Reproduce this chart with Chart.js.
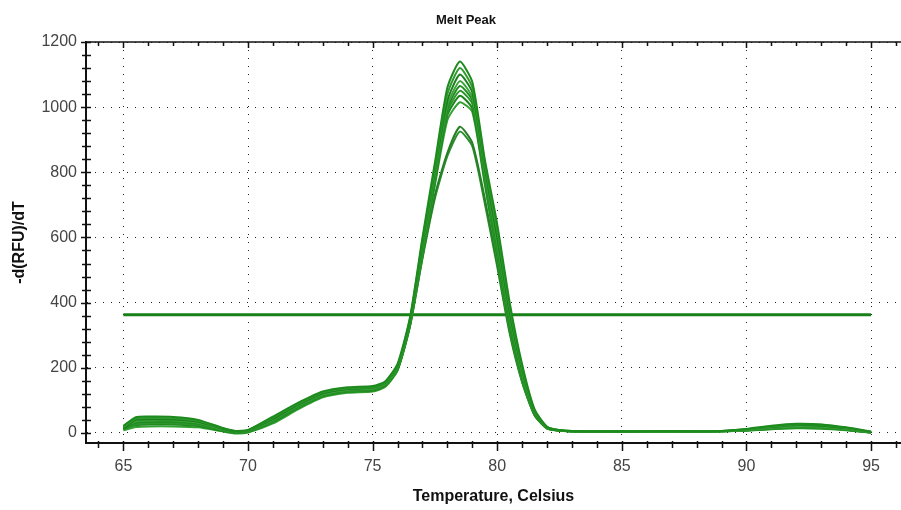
<!DOCTYPE html>
<html>
<head>
<meta charset="utf-8">
<script src="https://cdn.jsdelivr.net/npm/chart.js@4"></script>
<style>
html,body{margin:0;padding:0;background:#fff;}
#wrap{width:901px;height:510px;position:relative;}
</style>
</head>
<body>
<div id="wrap"><canvas id="c"></canvas></div>
<script>
// ---- data ----
const temps = [65, 65.5, 66, 67, 68, 69, 69.5, 70, 71, 72, 73, 74, 75, 75.5, 76, 76.5, 77, 77.5, 78, 78.5, 79, 79.5, 80, 80.5, 81, 81.5, 82, 82.5, 83, 84, 85, 86, 87, 88, 89, 90, 91, 92, 93, 94, 95];
const well1  = [22,48,50,49,40,15,6,9,50,92,127,140,144,158,212,355,600,830,1060,1140,1077,840,640,400,210,72,19,9,6,5,5,5,5,5,6,12,22,28,26,17,4];
const well2  = [18,44,46,45,37,14,5,8,47,89,124,137,141,155,207,350,590,815,1040,1120,1060,825,620,385,200,68,18,8,6,5,5,5,4,5,6,10,20,26,25,15,3];
const well3  = [15,40,42,41,34,12,4,7,43,86,121,135,139,153,204,345,580,805,1020,1100,1045,812,600,370,192,65,17,8,5,5,4,5,5,5,6,11,18,24,22,14,3];
const well4  = [20,36,38,38,31,10,3,6,40,83,118,132,136,150,200,342,572,795,1005,1080,1030,800,585,360,185,63,16,8,5,5,5,4,5,5,5,9,16,20,19,12,2];
const well5  = [12,32,34,34,28,9,2,5,38,80,116,130,134,148,198,338,566,785,995,1065,1020,790,570,350,178,61,15,7,5,4,5,5,5,4,5,8,14,18,17,11,2];
const well6  = [10,27,29,29,24,8,1,4,35,78,114,128,132,146,196,335,560,780,985,1050,1010,782,555,338,172,59,15,7,5,5,4,5,4,5,5,8,13,16,15,10,1];
const well7  = [14,24,26,26,21,6,1,3,33,76,112,126,130,144,194,332,555,770,975,1035,995,772,545,328,166,57,14,7,5,4,5,4,5,5,5,7,12,15,14,9,1];
const well8  = [8,18,20,20,17,4,-2,1,29,72,109,123,127,141,191,328,548,760,960,1015,985,762,535,320,160,55,14,7,4,5,4,5,4,5,5,7,11,14,13,8,1];
const well9  = [16,30,32,32,26,8,1,5,36,79,115,129,133,147,195,330,540,730,860,940,890,720,520,312,158,54,14,7,5,5,5,5,5,4,5,9,15,19,18,11,2];
const well10 = [11,25,27,27,22,7,1,4,34,77,113,127,131,145,193,328,535,720,850,925,880,705,510,305,155,53,13,7,5,4,4,5,5,5,5,8,13,17,16,10,1];
const wells = [well1, well2, well3, well4, well5, well6, well7, well8, well9, well10];
const thresholdTemps = [65, 95];
const thresholdValue = [363, 363];
const xTickValues = [65, 70, 75, 80, 85, 90, 95];
const yTickValues = [0, 200, 400, 600, 800, 1000, 1200];
const titleText = 'Melt Peak';
const xTitle = 'Temperature, Celsius';
const yTitle = '-d(RFU)/dT';

const FONT = '"Liberation Sans", Arial, sans-serif';
const lineColors = ['#1c8a1c','#2f9a2f','#1a7f1a','#3aa33a','#208c20','#2c962c','#1b851b','#33a033','#267f26','#2a8f2a'];

const datasets = wells.map((w, i) => ({
  label: 'Well ' + (i + 1),
  data: temps.map((t, j) => ({x: t, y: w[j]})),
  borderColor: lineColors[i],
  borderWidth: 2,
  pointRadius: 0,
  fill: false,
  tension: 0.2
}));
datasets.push({
  label: 'Threshold',
  data: thresholdTemps.map((t, j) => ({x: t, y: thresholdValue[j]})),
  borderColor: '#178017',
  borderWidth: 3,
  pointRadius: 0,
  fill: false
});

const frame = {
  id: 'frame',
  afterDraw(chart) {
    const ctx = chart.ctx, a = chart.chartArea;
    const xs = chart.scales.x, ys = chart.scales.y;
    ctx.save();
    ctx.strokeStyle = '#111';
    ctx.lineWidth = 1.5;
    ctx.beginPath(); ctx.moveTo(a.left, a.top); ctx.lineTo(chart.width, a.top); ctx.stroke();
    for (let t = Math.ceil(xs.min); t <= xs.max; t++) {
      const px = Math.round(xs.getPixelForValue(t)) + 0.5;
      const major = t % 5 === 0;
      ctx.beginPath();
      ctx.moveTo(px, a.bottom - 2); ctx.lineTo(px, a.bottom + (major ? 8 : 5));
      ctx.moveTo(px, a.top); ctx.lineTo(px, a.top + (major ? 6 : 4));
      ctx.stroke();
    }
    for (let v = 0; v <= ys.max; v += 40) {
      const py = Math.round(ys.getPixelForValue(v)) + 0.5;
      const major = v % 200 === 0;
      ctx.beginPath();
      ctx.moveTo(a.left - (major ? 5 : 4), py); ctx.lineTo(a.left + 5, py);
      ctx.stroke();
    }
    ctx.fillStyle = '#111';
    ctx.font = 'bold 13px ' + FONT;
    ctx.textAlign = 'center';
    ctx.textBaseline = 'middle';
    ctx.fillText(titleText, 466, 20);
    ctx.restore();
  }
};

new Chart(document.getElementById('c'), {
  type: 'line',
  data: { datasets },
  options: {
    responsive: true,
    maintainAspectRatio: false,
    animation: false,
    layout: { padding: { top: 42, right: 0, left: 0, bottom: 0 } },
    plugins: { legend: { display: false }, title: { display: false }, tooltip: { enabled: false } },
    scales: {
      x: {
        type: 'linear',
        min: 63.5,
        max: 96.2,
        afterBuildTicks: s => { s.ticks = xTickValues.map(v => ({value: v})); },
        afterFit: s => { s.height = 67; },
        grid: { color: '#222', lineWidth: 1, drawTicks: false },
        border: { display: true, color: '#111', width: 2, dash: [1, 7] },
        ticks: { color: '#444', padding: 14, font: { family: FONT, size: 16 }, maxRotation: 0, callback: v => String(v) },
        title: { display: true, text: xTitle, color: '#111', font: { family: FONT, size: 16, weight: 'bold' }, padding: { top: 0, bottom: 4 } }
      },
      y: {
        type: 'linear',
        min: -31,
        max: 1200,
        afterBuildTicks: s => { s.ticks = yTickValues.map(v => ({value: v})); },
        afterFit: s => { s.width = 86; },
        grid: { color: '#222', lineWidth: 1, drawTicks: false },
        border: { display: true, color: '#111', width: 2, dash: [1, 7] },
        ticks: { color: '#444', padding: 9, font: { family: FONT, size: 16 }, callback: v => String(v) },
        title: { display: true, text: yTitle, color: '#111', font: { family: FONT, size: 16, weight: 'bold' }, padding: { top: 10, bottom: 0 } }
      }
    }
  },
  plugins: [frame]
});
</script>
</body>
</html>
